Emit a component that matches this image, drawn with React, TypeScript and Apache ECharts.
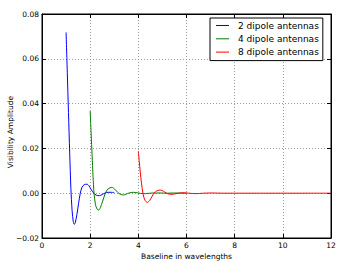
import React, { useEffect, useRef } from "react";
import * as echarts from "echarts";

const seriesNames = ["2 dipole antennas", "4 dipole antennas", "8 dipole antennas"];
const seriesColors = ["#0000ff", "#008000", "#ff0000"];

const dipole2: [number, number][] = [
  [1.0, 0.0718], [1.05, 0.054], [1.1, 0.036], [1.15, 0.018], [1.2, 0.002],
  [1.25, -0.0078], [1.3, -0.0128], [1.34, -0.0139], [1.38, -0.0132], [1.45, -0.0095],
  [1.52, -0.0045], [1.59, 0.0], [1.66, 0.0026], [1.75, 0.0038], [1.87, 0.004],
  [1.95, 0.0033], [2.05, 0.0015], [2.15, 0.0], [2.25, -0.0009], [2.38, -0.0011],
  [2.5, -0.0006], [2.62, 0.0001], [2.75, 0.0004], [2.9, 0.0004], [3.0, 0.0002],
];

const dipole4: [number, number][] = [
  [2.0, 0.0367], [2.04, 0.0265], [2.08, 0.017], [2.12, 0.0075], [2.16, 0.0],
  [2.22, -0.005], [2.28, -0.007], [2.35, -0.0075], [2.42, -0.0065], [2.52, -0.0035],
  [2.63, 0.0], [2.75, 0.002], [2.9, 0.0026], [3.02, 0.0018], [3.15, 0.0003],
  [3.25, -0.0005], [3.38, -0.0008], [3.5, -0.0004], [3.62, 0.0001], [3.79, 0.0004],
  [3.95, 0.0002], [4.1, -0.0001], [4.3, -0.0002], [4.6, 0.0001], [4.9, 0.0001],
  [5.2, 0.0], [5.5, 0.0001], [5.8, 0.0], [6.0, 0.0],
];

const dipole8: [number, number][] = [
  [4.0, 0.0188], [4.04, 0.014], [4.08, 0.0095], [4.13, 0.0045], [4.2, -0.0005],
  [4.27, -0.003], [4.37, -0.0041], [4.47, -0.0033], [4.56, -0.0016], [4.65, 0.0],
  [4.78, 0.0011], [4.92, 0.0014], [5.05, 0.0008], [5.17, 0.0], [5.28, -0.0004],
  [5.4, -0.0005], [5.52, -0.0003], [5.65, 0.0], [5.85, 0.0002], [6.1, 0.0],
  [6.4, -0.0002], [6.7, 0.0], [7.0, 0.0001], [7.5, 0.0], [8.0, 0.0],
  [9.0, 0.0], [10.0, 0.0], [11.0, 0.0], [12.0, 0.0],
];

const xName = "Baseline in wavelengths";
const yName = "Visibility Amplitude";
const xMin = 0, xMax = 12, xStep = 2;
const yMin = -0.02, yMax = 0.08, yStep = 0.02;

const FONT = "DejaVu Sans";

export default function App() {
  const ref = useRef<HTMLDivElement>(null);
  useEffect(() => {
    document.body.style.margin = "0";
    if (!ref.current) return;
    const chart = echarts.init(ref.current, undefined, { renderer: "svg" });
    const tickStyle = { show: true, inside: true, length: 4, lineStyle: { color: "#000", width: 1 } };
    const lineAxis = { show: true, onZero: false, lineStyle: { color: "#000", width: 1 } };
    const fmtY = (v: number) => {
      const s = Math.abs(v).toFixed(2);
      return v < -1e-9 ? "\u2212" + s : s;
    };
    const allData = [dipole2, dipole4, dipole8];
    chart.setOption({
      animation: false,
      textStyle: { fontFamily: FONT },
      grid: {
        left: 42, right: 8, top: 14, bottom: 23,
        containLabel: false, outerBoundsMode: "none",
        show: true, borderColor: "#000", borderWidth: 1, backgroundColor: "#fff",
      },
      legend: {
        orient: "vertical",
        left: 210,
        top: 18,
        backgroundColor: "#fff",
        borderColor: "#000",
        borderWidth: 1,
        borderRadius: 0,
        padding: [3, 4, 4, 6],
        icon: "rect",
        itemWidth: 13,
        itemHeight: 1,
        itemGap: 4.3,
        textStyle: { fontFamily: FONT, fontSize: 9, color: "#000", padding: [0, 0, 0, 4], lineHeight: 9 },
        data: seriesNames,
      },
      xAxis: [
        {
          type: "value", min: xMin, max: xMax, interval: xStep,
          name: xName, nameLocation: "middle", nameGap: 14, nameMoveOverlap: false,
          nameTextStyle: { fontFamily: FONT, fontSize: 7.5, color: "#000", verticalAlign: "top" },
          axisLine: lineAxis,
          axisTick: tickStyle,
          axisLabel: { fontFamily: FONT, fontSize: 7.5, color: "#000", margin: 3 },
          splitLine: { show: true, lineStyle: { color: "#999", type: [1, 2], width: 1 } },
        },
        {
          type: "value", min: xMin, max: xMax, interval: xStep, position: "top",
          axisLine: lineAxis,
          axisTick: tickStyle, axisLabel: { show: false }, splitLine: { show: false },
        },
      ],
      yAxis: [
        {
          type: "value", min: yMin, max: yMax, interval: yStep,
          name: yName, nameLocation: "middle", nameGap: 32, nameMoveOverlap: false,
          nameTextStyle: { fontFamily: FONT, fontSize: 7.5, color: "#000", verticalAlign: "middle", padding: [0, 12, 0, 0] },
          axisLine: lineAxis,
          axisTick: tickStyle,
          axisLabel: { fontFamily: FONT, fontSize: 7.5, color: "#000", margin: 3, formatter: fmtY },
          splitLine: { show: true, lineStyle: { color: "#999", type: [1, 2], width: 1 } },
        },
        {
          type: "value", min: yMin, max: yMax, interval: yStep, position: "right",
          axisLine: lineAxis,
          axisTick: tickStyle, axisLabel: { show: false }, splitLine: { show: false },
        },
      ],
      series: allData.map((d, i) => ({
        name: seriesNames[i],
        type: "line",
        data: d,
        symbol: "none",
        smooth: 0.3,
        color: seriesColors[i],
        lineStyle: { color: seriesColors[i], width: 1 },
        xAxisIndex: 0,
        yAxisIndex: 0,
      })),
    });
    return () => chart.dispose();
  }, []);
  return <div ref={ref} style={{ width: 339, height: 261 }} />;
}
